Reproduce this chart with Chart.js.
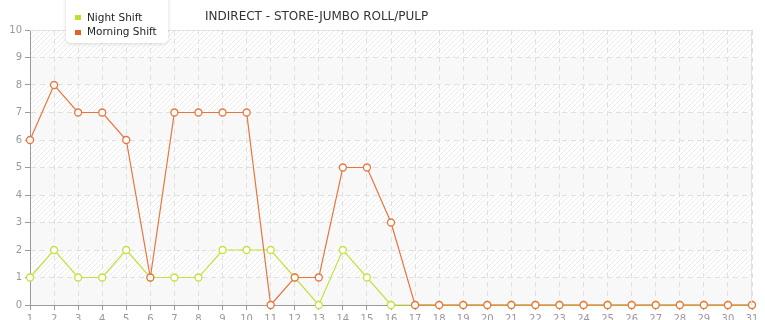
<!DOCTYPE html>
<html>
<head>
<meta charset="utf-8">
<script src="https://cdn.jsdelivr.net/npm/chart.js@4"></script>
<style>
  html, body { margin: 0; padding: 0; background: #fff; }
  #wrap { width: 765px; height: 320px; position: relative; }
</style>
</head>
<body>
<div id="wrap"><canvas id="chart"></canvas></div>
<script>
// Dados do gráfico
const days = ['1','2','3','4','5','6','7','8','9','10','11','12','13','14','15','16',
              '17','18','19','20','21','22','23','24','25','26','27','28','29','30','31'];
const nightShift = [1,2,1,1,2,1,1,1,2,2,2,1,0,2,1,0,0,0,0,0,0,0,0,0,0,0,0,0,0,0,0];
const morningShift = [6,8,7,7,6,1,7,7,7,7,0,1,1,5,5,3,0,0,0,0,0,0,0,0,0,0,0,0,0,0,0];
const yTicks = [0,1,2,3,4,5,6,7,8,9,10];
const chartTitle = 'INDIRECT - STORE-JUMBO ROLL/PULP';

const colors = {
    night: '#c6e03c',
    morning: '#e8753f',
    nightBox: '#bde02b',
    morningBox: '#e0622a',
    grid: '#e0e0e0',
    axis: '#9a9a9a',
    text: '#999',
    title: '#333'
};

const FONT = '"DejaVu Sans", Verdana, sans-serif';

// --- Fundo hachurado com faixas alternadas, título e legenda ---
const decorPlugin = {
    id: 'decor',
    beforeDraw(chart) {
        const { ctx, chartArea: a, scales: { y } } = chart;
        const w = a.right - a.left, h = a.bottom - a.top;
        ctx.save();
        ctx.beginPath();
        ctx.rect(a.left, a.top, w, h);
        ctx.clip();
        ctx.fillStyle = '#ffffff';
        ctx.fillRect(a.left, a.top, w, h);
        // hachura diagonal
        ctx.strokeStyle = '#ececec';
        ctx.lineWidth = 1;
        for (let x = a.left - h; x < a.right + 5; x += 5) {
            ctx.beginPath();
            ctx.moveTo(x, a.bottom);
            ctx.lineTo(x + h, a.top);
            ctx.stroke();
        }
        // faixas cinzas alternadas
        ctx.fillStyle = 'rgba(247,247,247,0.8)';
        for (let v = 0; v < 10; v += 2) {
            const y1 = y.getPixelForValue(v + 1);
            const y0 = y.getPixelForValue(v);
            ctx.fillRect(a.left, y1, w, y0 - y1);
        }
        ctx.restore();
    },
    afterDraw(chart) {
        const { ctx, chartArea: a } = chart;
        ctx.save();
        // borda superior e direita
        ctx.strokeStyle = '#e2e2e2';
        ctx.lineWidth = 1;
        ctx.beginPath();
        ctx.moveTo(a.left, a.top + 0.5);
        ctx.lineTo(a.right - 0.5, a.top + 0.5);
        ctx.lineTo(a.right - 0.5, a.bottom);
        ctx.stroke();

        // título
        ctx.fillStyle = colors.title;
        ctx.font = '12px ' + FONT;
        ctx.textAlign = 'left';
        ctx.textBaseline = 'middle';
        ctx.fillText(chartTitle, 205, 17);

        // legenda
        ctx.shadowColor = 'rgba(0,0,0,0.15)';
        ctx.shadowBlur = 4;
        ctx.shadowOffsetY = 1;
        ctx.fillStyle = '#fff';
        ctx.beginPath();
        ctx.roundRect(66, -6, 102, 49, 5);
        ctx.fill();
        ctx.shadowColor = 'transparent';
        ctx.fillStyle = colors.nightBox;
        ctx.fillRect(75, 15, 6, 5);
        ctx.fillStyle = colors.morningBox;
        ctx.fillRect(75, 30, 6, 5);
        ctx.fillStyle = '#222';
        ctx.font = '10.5px ' + FONT;
        ctx.fillText('Night Shift', 87, 18);
        ctx.fillText('Morning Shift', 87, 32.5);
        ctx.restore();
    }
};

function shiftDataset(label, data, color) {
    return {
        label: label,
        data: data,
        borderColor: color,
        backgroundColor: '#fff',
        borderWidth: 1.2,
        pointRadius: 3.5,
        pointBorderWidth: 1.3,
        pointBackgroundColor: '#fff',
        pointBorderColor: color,
        tension: 0
    };
}

const ctx = document.getElementById('chart').getContext('2d');
new Chart(ctx, {
    type: 'line',
    data: {
        labels: days,
        datasets: [
            { ...shiftDataset('Morning Shift', morningShift, colors.morning), order: 0 },
            { ...shiftDataset('Night Shift', nightShift, colors.night), order: 1 }
        ]
    },
    options: {
        responsive: true,
        maintainAspectRatio: false,
        animation: false,
        clip: false,
        layout: { padding: { top: 30, right: 13, left: 0, bottom: 0 } },
        plugins: {
            legend: { display: false },
            title: { display: false },
            tooltip: { enabled: false }
        },
        scales: {
            x: {
                offset: false,
                afterFit(scale) { scale.height = 15; },
                grid: { color: colors.grid, tickColor: colors.axis, tickLength: 5 },
                border: { color: colors.axis, width: 1, dash: [5, 4] },
                ticks: {
                    color: colors.text,
                    font: { family: FONT, size: 10 },
                    padding: 3,
                    maxRotation: 0,
                    autoSkip: false
                }
            },
            y: {
                min: 0,
                max: 10,
                afterFit(scale) { scale.width = 30; },
                afterBuildTicks(scale) { scale.ticks = yTicks.map(v => ({ value: v })); },
                grid: { color: colors.grid, tickColor: colors.axis, tickLength: 5 },
                border: { color: colors.axis, width: 1, dash: [5, 4] },
                ticks: {
                    color: colors.text,
                    font: { family: FONT, size: 10 },
                    padding: 3
                }
            }
        }
    },
    plugins: [decorPlugin]
});
</script>
</body>
</html>
